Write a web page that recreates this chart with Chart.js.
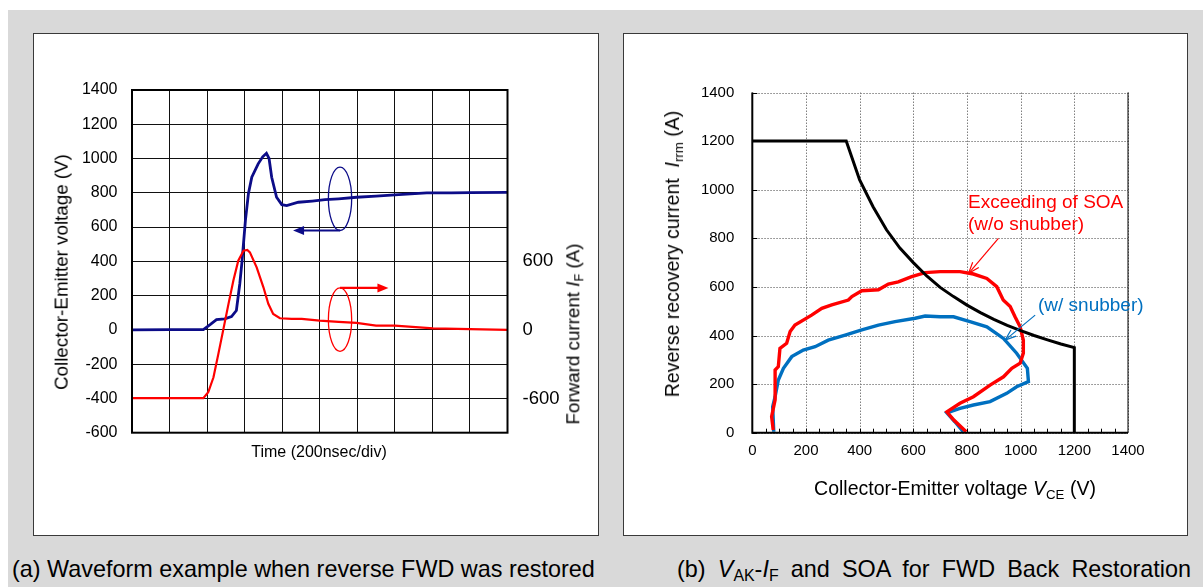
<!DOCTYPE html>
<html>
<head>
<meta charset="utf-8">
<script src="https://cdn.jsdelivr.net/npm/chart.js@4/dist/chart.umd.min.js"></script>
<style>
  body { margin: 0; width: 1203px; height: 587px; background: #fff; overflow: hidden; position: relative;
         font-family: 'Liberation Sans', Arial, sans-serif; color: #000; }
  #bg { position: absolute; left: 8px; top: 10px; right: 0; bottom: 0; background: #d9d9d9; }
  .panel { position: absolute; top: 33px; height: 503px; background: #fff; border: 1px solid #3a3a3a; box-sizing: border-box; }
  canvas { position: absolute; }
  .txt { position: absolute; white-space: nowrap; line-height: 1; }
  .ctr { transform: translate(-50%, -50%); }
  .rot { transform: translate(-50%, -50%) rotate(-90deg); }
  .sb { font-size: 0.68em; vertical-align: -0.28em; font-style: normal; }
  .caption { position: absolute; top: 558px; font-size: 23.4px; line-height: 1; white-space: nowrap; }
  #capB { left: 677px; width: 514px; text-align: justify; text-align-last: justify; white-space: normal; }
</style>
</head>
<body>
<div id="bg"></div>
<div class="panel" style="left:33px; width:566px;"></div>
<div class="panel" style="left:623px; width:565px;"></div>

<canvas id="waveChart" width="563" height="501" style="left:34px; top:34px;"></canvas>
<canvas id="soaChart" width="562" height="501" style="left:624px; top:34px;"></canvas>

<!-- axis titles, left panel -->
<div class="txt rot" style="left:62px; top:272px; font-size:18.8px;">Collector-Emitter voltage (V)</div>
<div class="txt rot" style="left:575px; top:334px; font-size:18.8px;">Forward current <i>I</i><span class="sb">F</span> (A)</div>
<div class="txt ctr" style="left:319px; top:452px; font-size:16px;">Time (200nsec/div)</div>

<!-- axis titles, right panel -->
<div class="txt rot" style="left:674px; top:254px; font-size:19.5px;">Reverse recovery current&nbsp; <i>I</i><span class="sb">rrm</span> (A)</div>
<div class="txt ctr" style="left:955px; top:490px; font-size:19.5px;">Collector-Emitter voltage <i>V</i><span class="sb">CE</span> (V)</div>

<!-- notes on the SOA chart -->
<div class="txt" style="left:968px; top:192px; font-size:19px; color:#ff0000;">Exceeding of SOA</div>
<div class="txt" style="left:968px; top:214px; font-size:19px; color:#ff0000;">(w/o snubber)</div>
<div class="txt" style="left:1038px; top:295px; font-size:19px; color:#0070c0;">(w/ snubber)</div>

<div class="caption" style="left:12px;">(a) Waveform example when reverse FWD was restored</div>
<div class="caption" id="capB">(b) <i>V</i><span class="sb">AK</span>-<i>I</i><span class="sb">F</span> and SOA for FWD Back Restoration</div>

<script>
// ---- (a) waveform, time in divisions of 200 ns ----
const timeV = [0, 1.0, 1.9, 2.08, 2.25, 2.47, 2.65, 2.78, 2.87, 2.93, 3.02, 3.1, 3.19, 3.36, 3.48, 3.58,
  3.65, 3.72, 3.85, 3.99, 4.12, 4.43, 4.8, 5.14, 5.5, 5.98, 6.5, 7.0, 7.85, 8.5, 9.0, 10.0];
const voltage = [0, 1, 2, 31, 60, 64, 78, 113, 268, 400, 638, 794, 891, 969, 1010, 1031,
  1000, 891, 774, 731, 725, 745, 752, 760, 765, 774, 781, 788, 800, 800, 801, 802];

const timeI = [0, 1.0, 1.9, 2.03, 2.17, 2.3, 2.43, 2.57, 2.7, 2.83, 2.97, 3.07, 3.14, 3.32, 3.5, 3.63,
  3.76, 3.94, 4.25, 4.52, 5.0, 5.5, 5.98, 6.5, 7.0, 8.02, 9.0, 10.0];
const current = [-598, -597, -598, -546, -415, -210, 0, 228, 432, 606, 694, 700, 679, 548, 373, 228,
  140, 102, 96, 96, 81, 70, 61, 38, 38, 14, 6, 0];

const voltTicks = [-600, -400, -200, 0, 200, 400, 600, 800, 1000, 1200, 1400];
const currentTicks = [-600, 0, 600];

// ---- (b) SOA and recovery loci ----
const soaV = [0, 350, 400, 450, 500, 550, 600, 650, 700, 750, 800, 850, 900, 950, 1000, 1050, 1100, 1150, 1200, 1200];
const soaI = [1200, 1200, 1040, 930, 835, 760, 700, 645, 598, 560, 525, 494, 466, 442, 420, 400, 382, 365, 350, 0];

const noSnubV = [78, 72, 85, 85, 97, 103, 128, 141, 159, 221, 259, 296, 358, 371, 408, 470, 507, 544, 594, 644,
  700, 774, 824, 874, 911, 935, 961, 979, 998, 1010, 1010, 998, 967, 936, 886, 824, 774, 725, 751, 797];
const noSnubI = [11, 66, 135, 258, 272, 347, 368, 416, 443, 484, 512, 526, 546, 560, 584, 588, 612, 621, 642, 659,
  663, 663, 653, 635, 601, 546, 519, 477, 436, 381, 327, 286, 265, 230, 196, 148, 121, 86, 52, 4];

const snubV = [80, 76, 85, 97, 116, 147, 190, 234, 283, 346, 408, 470, 532, 607, 644, 700, 750, 811, 874,
  936, 985, 1025, 1029, 985, 948, 886, 824, 774, 725, 755, 786];
const snubI = [4, 107, 148, 217, 265, 313, 340, 354, 381, 402, 423, 443, 457, 471, 480, 477, 477, 457, 436,
  388, 327, 265, 210, 189, 162, 128, 114, 100, 82, 45, 4];

const soaTicks = [0, 200, 400, 600, 800, 1000, 1200, 1400];

Chart.defaults.font.family = "'Liberation Sans', Arial, sans-serif";
Chart.defaults.color = '#000';

const toPoints = (xs, ys) => xs.map((x, i) => ({x: x, y: ys[i]}));
const plain = (v) => String(v);

function arrow(ctx, x1, y1, x2, y2, filled, len, half) {
  const ang = Math.atan2(y2 - y1, x2 - x1);
  ctx.beginPath();
  ctx.moveTo(x1, y1);
  ctx.lineTo(filled ? x2 - Math.cos(ang) * len * 0.8 : x2, filled ? y2 - Math.sin(ang) * len * 0.8 : y2);
  ctx.stroke();
  const bx = x2 - Math.cos(ang) * len, by = y2 - Math.sin(ang) * len;
  const nx = -Math.sin(ang) * half, ny = Math.cos(ang) * half;
  ctx.beginPath();
  ctx.moveTo(bx + nx, by + ny);
  ctx.lineTo(x2, y2);
  ctx.lineTo(bx - nx, by - ny);
  if (filled) { ctx.closePath(); ctx.fill(); } else { ctx.stroke(); }
}

class RecoveryFigure {

  constructor() {
    this.navy = '#0c0c88';
    this.red = '#ff0000';
    this.blue = '#0070c0';
  }

  drawWaveform() {
    const navy = this.navy, red = this.red;
    // frame, ellipses and arrows that tie each trace to its axis
    const waveDecor = {
      id: 'waveDecor',
      afterDatasetsDraw(chart) {
        const {ctx, chartArea: a, scales: {x, y}} = chart;
        ctx.save();
        ctx.strokeStyle = '#000';
        ctx.lineWidth = 2;
        ctx.strokeRect(a.left, a.top, a.right - a.left, a.bottom - a.top);

        const cx = x.getPixelForValue(5.54);
        const rx = x.getPixelForValue(5.85) - cx;
        const marks = [
          {color: navy, cy: 765, ay: 580, ax: 4.29},
          {color: red, cy: 60, ay: 245, ax: 6.83}
        ];
        marks.forEach((m) => {
          const cy = y.getPixelForValue(m.cy);
          const ry = y.getPixelForValue(m.cy - 185) - cy;
          ctx.strokeStyle = m.color;
          ctx.fillStyle = m.color;
          ctx.lineWidth = 1.3;
          ctx.beginPath();
          ctx.ellipse(cx, cy, rx, ry, 0, 0, Math.PI * 2);
          ctx.stroke();
          ctx.lineWidth = 2.2;
          const ay = y.getPixelForValue(m.ay);
          arrow(ctx, cx, ay, x.getPixelForValue(m.ax), ay, true, 11, 4.5);
        });
        ctx.restore();
      }
    };

    new Chart(document.getElementById('waveChart'), {
      type: 'scatter',
      data: {
        datasets: [
          {data: toPoints(timeI, current), yAxisID: 'y2', showLine: true, borderColor: red, borderWidth: 2.2, pointRadius: 0},
          {data: toPoints(timeV, voltage), yAxisID: 'y', showLine: true, borderColor: navy, borderWidth: 2.8, pointRadius: 0}
        ]
      },
      options: {
        responsive: false,
        animation: false,
        events: [],
        layout: {padding: {top: 56, right: 0, bottom: 0, left: 0}},
        plugins: {legend: {display: false}, tooltip: {enabled: false}},
        scales: {
          x: {
            type: 'linear', min: 0, max: 10,
            ticks: {display: false, stepSize: 1},
            grid: {color: '#111', lineWidth: 1, drawTicks: false},
            border: {display: false},
            afterFit: (s) => { s.height = 102.3; }
          },
          y: {
            position: 'left', min: -600, max: 1400,
            afterBuildTicks: (s) => { s.ticks = voltTicks.map((v) => ({value: v})); },
            ticks: {padding: 14.5, font: {size: 16}, color: '#000', callback: plain},
            grid: {color: '#111', lineWidth: 1, drawTicks: false},
            border: {display: false},
            afterFit: (s) => { s.width = 98; }
          },
          y2: {
            position: 'right', min: -900, max: 2100,
            afterBuildTicks: (s) => { s.ticks = currentTicks.map((v) => ({value: v})); },
            ticks: {padding: 15, font: {size: 18.5}, color: '#000', callback: plain},
            grid: {display: false, drawTicks: false},
            border: {display: false},
            afterFit: (s) => { s.width = 89.5; }
          }
        }
      },
      plugins: [waveDecor]
    });
  }

  drawSoa() {
    const red = this.red, blue = this.blue;
    const soaDecor = {
      id: 'soaDecor',
      // dotted grey grid under the curves
      beforeDatasetsDraw(chart) {
        const {ctx, chartArea: a, scales: {x, y}} = chart;
        ctx.save();
        ctx.strokeStyle = '#7f7f7f';
        ctx.lineWidth = 1;
        ctx.setLineDash([1.5, 1.5]);
        ctx.beginPath();
        soaTicks.forEach((v) => {
          const px = Math.round(x.getPixelForValue(v)) + 0.5;
          ctx.moveTo(px, a.top);
          ctx.lineTo(px, a.bottom);
          const py = Math.round(y.getPixelForValue(v)) + 0.5;
          ctx.moveTo(a.left, py);
          ctx.lineTo(a.right, py);
        });
        ctx.stroke();
        ctx.restore();
      },
      afterDatasetsDraw(chart) {
        const {ctx, chartArea: a, scales: {x, y}} = chart;
        ctx.save();
        ctx.strokeStyle = '#000';
        ctx.lineWidth = 2;
        ctx.beginPath();
        ctx.moveTo(a.left, a.top);
        ctx.lineTo(a.left, a.bottom);
        ctx.lineTo(a.right, a.bottom);
        ctx.stroke();
        ctx.lineWidth = 1;
        ctx.beginPath();
        ctx.moveTo(a.right, a.top);
        ctx.lineTo(a.right, a.bottom);
        ctx.stroke();
        // inward ticks: minor every 50 V on x, major on y
        ctx.beginPath();
        for (let v = 50; v < 1400; v += 50) {
          const px = Math.round(x.getPixelForValue(v)) + 0.5;
          ctx.moveTo(px, a.bottom);
          ctx.lineTo(px, a.bottom - 4);
        }
        soaTicks.forEach((v) => {
          const py = Math.round(y.getPixelForValue(v)) + 0.5;
          ctx.moveTo(a.left, py);
          ctx.lineTo(a.left + 5, py);
        });
        ctx.stroke();
        // pointers from the notes
        ctx.lineWidth = 1.2;
        ctx.strokeStyle = red;
        arrow(ctx, x.getPixelForValue(917), y.getPixelForValue(800), x.getPixelForValue(806), y.getPixelForValue(656), false, 11, 4);
        ctx.strokeStyle = blue;
        arrow(ctx, x.getPixelForValue(1054), y.getPixelForValue(484), x.getPixelForValue(942), y.getPixelForValue(381), false, 11, 4);
        ctx.restore();
      }
    };

    new Chart(document.getElementById('soaChart'), {
      type: 'scatter',
      data: {
        datasets: [
          {data: toPoints(soaV, soaI), showLine: true, borderColor: '#000', borderWidth: 3, pointRadius: 0},
          {data: toPoints(noSnubV, noSnubI), showLine: true, borderColor: red, borderWidth: 3.4, pointRadius: 0},
          {data: toPoints(snubV, snubI), showLine: true, borderColor: blue, borderWidth: 3.4, pointRadius: 0}
        ]
      },
      options: {
        responsive: false,
        animation: false,
        events: [],
        layout: {padding: {top: 58.5, right: 58, bottom: 0, left: 0}},
        plugins: {legend: {display: false}, tooltip: {enabled: false}},
        scales: {
          x: {
            type: 'linear', min: 0, max: 1400,
            afterBuildTicks: (s) => { s.ticks = soaTicks.map((v) => ({value: v})); },
            ticks: {padding: 9, font: {size: 15}, color: '#000', maxRotation: 0, callback: plain},
            grid: {display: false, drawTicks: false},
            border: {display: false},
            afterFit: (s) => { s.height = 102.3; }
          },
          y: {
            min: 0, max: 1400,
            afterBuildTicks: (s) => { s.ticks = soaTicks.map((v) => ({value: v})); },
            ticks: {padding: 18, font: {size: 15}, color: '#000', callback: plain},
            grid: {display: false, drawTicks: false},
            border: {display: false},
            afterFit: (s) => { s.width = 128.3; }
          }
        }
      },
      plugins: [soaDecor]
    });
  }
}

const fig = new RecoveryFigure();
fig.drawWaveform();
fig.drawSoa();
</script>
</body>
</html>
